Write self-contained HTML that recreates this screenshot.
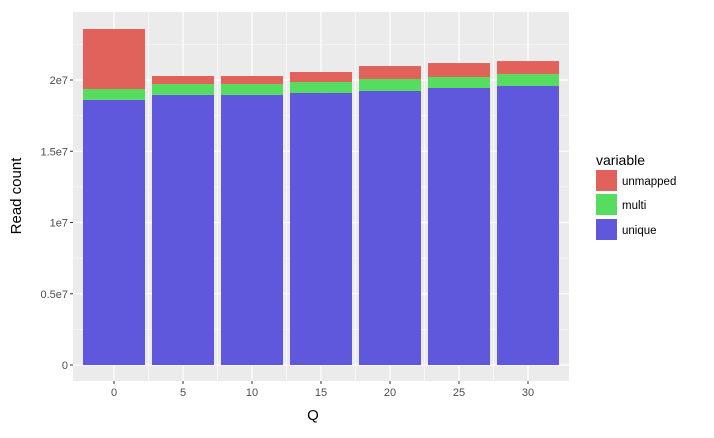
<!DOCTYPE html>
<html><head><meta charset="utf-8"><style>
body{margin:0;background:#fff;font-family:"Liberation Sans","DejaVu Sans",sans-serif}
</style></head><body>
<svg width="714" height="433" xmlns="http://www.w3.org/2000/svg">
<g id="plot"></g>
<text x="313" y="420" font-size="15" text-anchor="middle" fill="#000">Q</text>
<text transform="translate(21,196) rotate(-90)" font-size="15" text-anchor="middle" fill="#000">Read count</text>
<g>
<text x="596" y="165" font-size="14" fill="#000">variable</text>
<rect x="596" y="170" width="21" height="21" fill="#e0625a"/>
<text x="622" y="185" font-size="11.5" fill="#000">unmapped</text>
<rect x="596" y="194" width="21" height="21" fill="#56dd60"/>
<text x="622" y="209" font-size="11.5" fill="#000">multi</text>
<rect x="596" y="219" width="21" height="21" fill="#5f58dc"/>
<text x="622" y="234" font-size="11.5" fill="#000">unique</text>
</g>
</svg>
<script>
const categories=[0,5,10,15,20,25,30];
const unique=[18.60,18.95,18.95,19.09,19.23,19.44,19.58];
const multi=[0.77,0.77,0.77,0.77,0.84,0.77,0.84];
const unmapped=[4.21,0.56,0.56,0.70,0.91,0.98,0.91];
const yTicks=[0,5,10,15,20];
const yTickLabels=["0","0.5e7","1e7","1.5e7","2e7"];
const xTicks=[0,5,10,15,20,25,30];
const NS="http://www.w3.org/2000/svg";
const g=document.getElementById('plot');
const px0=73,px1=569,py0=12,py1=381;
const xs=v=>114+(v-0)*(528-114)/30;
const ys=v=>365-v*142.5/10;
function mk(t,a,p){const e=document.createElementNS(NS,t);for(const k in a)e.setAttribute(k,a[k]);(p||g).appendChild(e);return e;}
const bg=mk('rect',{x:px0,y:py0,width:px1-px0,height:py1-py0,fill:'#ebebeb'});


// minor grid
for(let i=0;i<yTicks.length;i++){const v=yTicks[i]+2.5;const y=ys(v);if(y<py0)continue;
const l=mk('line',{x1:px0,x2:px1,y1:y,y2:y,stroke:'#fff','stroke-width':0.6});

}
for(let i=0;i<xTicks.length-1;i++){const x=xs((xTicks[i]+xTicks[i+1])/2);
const l=mk('line',{x1:x,x2:x,y1:py0,y2:py1,stroke:'#fff','stroke-width':0.6});

}
yTicks.forEach((v,i)=>{const y=ys(v);
const l=mk('line',{x1:px0,x2:px1,y1:y,y2:y,stroke:'#fff','stroke-width':1.2});


const tk=mk('line',{x1:px0-3,x2:px0,y1:y,y2:y,stroke:'#333'});


const t=mk('text',{x:px0-5,y:y+4,'font-size':11,'text-anchor':'end',fill:'#4d4d4d'});t.textContent=yTickLabels[i];

});
xTicks.forEach(v=>{const x=xs(v);
const l=mk('line',{x1:x,x2:x,y1:py0,y2:py1,stroke:'#fff','stroke-width':1.2});


const tk=mk('line',{x1:x,x2:x,y1:py1,y2:py1+3,stroke:'#333'});


const t=mk('text',{x:x,y:py1+15,'font-size':11,'text-anchor':'middle',fill:'#4d4d4d'});t.textContent=String(v);

});
const bw=62;
categories.forEach((c,i)=>{const x=xs(c)-bw/2;let base=0;
[[unique,'#5f58dc','unique'],[multi,'#56dd60','multi'],[unmapped,'#e0625a','unmapped']].forEach(([arr,col,nm])=>{
const top=base+arr[i];
const r=mk('rect',{x:x,y:ys(top),width:bw,height:ys(base)-ys(top),fill:col});


base=top;});});
</script>
</body></html>
